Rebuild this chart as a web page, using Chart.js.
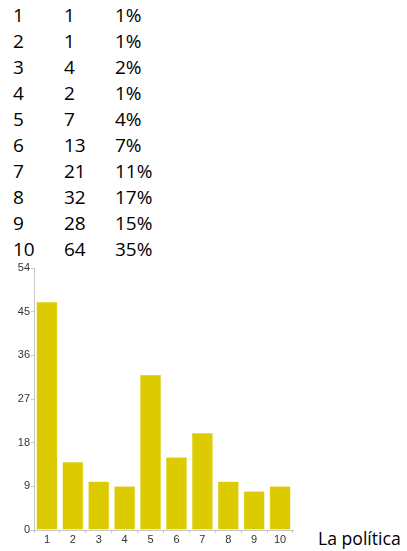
<!DOCTYPE html>
<html>
<head>
<meta charset="utf-8">
<script src="https://cdn.jsdelivr.net/npm/chart.js"></script>
<style>
  body { margin: 0; background: #fff; width: 407px; height: 551px; overflow: hidden; position: relative; }
  #tabla { position: absolute; left: 13px; top: 2px; font-family: "Open Sans", sans-serif; font-size: 19px; color: #000; }
  #tabla div { height: 26px; line-height: 26px; white-space: nowrap; }
  #tabla span { display: inline-block; }
  #etiqueta { position: absolute; left: 318px; top: 526px; font-family: "Open Sans", sans-serif; font-size: 17.6px; color: #000; }
  #wrap { position: absolute; left: 0; top: 258px; width: 300px; height: 293px; }
</style>
</head>
<body>
<div id="tabla"></div>
<div id="etiqueta">La política</div>
<div id="wrap"><canvas id="chartPolitica"></canvas></div>
<script>
// tabla de arriba
const filas = ['1', '2', '3', '4', '5', '6', '7', '8', '9', '10'];
const conteos = [1, 1, 4, 2, 7, 13, 21, 32, 28, 64];
const porcentajes = ['1%', '1%', '2%', '1%', '4%', '7%', '11%', '17%', '15%', '35%'];

// barras
const categorias = ['1', '2', '3', '4', '5', '6', '7', '8', '9', '10'];
const valores = [47, 14, 10, 9, 32, 15, 20, 10, 8, 9];
const ticksY = [0, 9, 18, 27, 36, 45, 54];

const tabla = document.getElementById('tabla');
filas.forEach((f, i) => {
    const row = document.createElement('div');
    row.innerHTML = '<span style="width:51px">' + f + '</span>' +
        '<span style="width:51px">' + conteos[i] + '</span>' +
        '<span>' + porcentajes[i] + '</span>';
    tabla.appendChild(row);
});

const ctx = document.getElementById('chartPolitica').getContext('2d');
new Chart(ctx, {
    type: 'bar',
    data: {
        labels: categorias,
        datasets: [{
            data: valores,
            backgroundColor: '#dccb00',
            borderColor: '#e6da4a',
            borderWidth: 0.5,
            barPercentage: 0.9,
            categoryPercentage: 0.9
        }]
    },
    options: {
        responsive: true,
        maintainAspectRatio: false,
        animation: false,
        layout: { padding: { left: 0, top: 10, right: 7, bottom: 3 } },
        plugins: {
            legend: { display: false },
            tooltip: { enabled: false }
        },
        scales: {
            x: {
                afterFit: s => { s.height = 18; },
                grid: { drawOnChartArea: false, drawTicks: true, tickLength: 3, color: '#c8c8c8' },
                border: { color: '#c8c8c8' },
                ticks: { color: '#333', font: { family: 'Arial', size: 11 }, padding: 0 }
            },
            y: {
                min: 0,
                max: 54,
                afterFit: s => { s.width = 34; },
                afterBuildTicks: s => { s.ticks = ticksY.map(v => ({ value: v })); },
                grid: { drawOnChartArea: false, drawTicks: true, tickLength: 3, color: '#c8c8c8' },
                border: { color: '#c8c8c8' },
                ticks: { color: '#333', font: { family: 'Arial', size: 11 }, padding: 1 }
            }
        }
    }
});
</script>
</body>
</html>
